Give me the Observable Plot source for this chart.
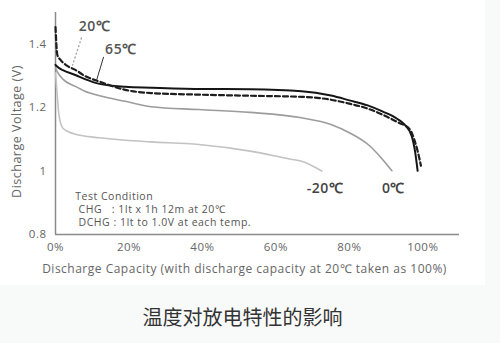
<!DOCTYPE html>
<html>
<head>
<meta charset="utf-8">
<script src="https://cdn.jsdelivr.net/npm/d3@7"></script>
<script src="https://cdn.jsdelivr.net/npm/@observablehq/plot@0.6"></script>
<style>
  html, body { margin: 0; padding: 0; background: #f8f9f9; width: 500px; height: 343px; overflow: hidden; }
  #chart svg { display: block; background: #ffffff; }
  #chart svg text { letter-spacing: 0.5px; }
  #caption { width: 485px; height: 58px; background: #f8f9f9; text-align: center;
    font-family: "Noto Sans CJK SC", sans-serif; font-size: 20px; color: #333; line-height: 64px; }
</style>
</head>
<body>
<div id="chart"></div>
<div id="caption">温度对放电特性的影响</div>
<script>
// Discharge capacity (%) and voltage (V) per temperature
const pct20 = [0, 0.5, 1.4, 3, 5.4, 8, 12, 19, 26, 39, 53, 67, 75, 80, 85, 89, 93, 96.5, 97.8, 98.6, 99.5];
const volt20 = [1.454, 1.366, 1.35, 1.333, 1.319, 1.30, 1.282, 1.256, 1.246, 1.241, 1.2375, 1.234, 1.225, 1.2125, 1.197, 1.178, 1.155, 1.131, 1.095, 1.063, 1.017];

const pct65 = [0, 0.5, 2, 5.4, 8, 12, 19, 26, 39, 53, 67, 75, 80, 85, 89, 93, 95, 97, 97.8, 98.6];
const volt65 = [1.335, 1.329, 1.318, 1.303, 1.29, 1.275, 1.266, 1.263, 1.259, 1.258, 1.252, 1.238, 1.223, 1.207, 1.188, 1.165, 1.147, 1.110, 1.069, 1.001];

const pct0 = [0, 0.5, 2, 5.4, 8, 12, 19, 26, 39, 53, 67, 75, 80, 85.6, 89, 91.6];
const volt0 = [1.325, 1.313, 1.29, 1.267, 1.252, 1.2375, 1.22, 1.203, 1.194, 1.185, 1.168, 1.147, 1.121, 1.079, 1.0375, 1.001];

const pctM20 = [0, 0.6, 0.9, 1.9, 3.5, 5.4, 12, 19, 26, 39, 53, 64, 67, 72.5];
const voltM20 = [1.31, 1.22, 1.18, 1.137, 1.124, 1.116, 1.105, 1.097, 1.092, 1.084, 1.063, 1.0375, 1.031, 1.0];

const seriesNames = ["20℃", "65℃", "-20℃", "0℃"];
const xTicks = [0, 20, 40, 60, 80, 100];
const yTicks = [0.8, 1, 1.2, 1.4];
const xTitle = "Discharge Capacity (with discharge capacity at 20℃ taken as 100%)";
const yTitle = "Discharge Voltage (V)";
const conditionLines = ["Test Condition", "\u00a0CHG\u00a0\u00a0\u00a0: 1It x 1h 12m at 20℃", "\u00a0DCHG : 1It to 1.0V at each temp."];

const toRows = (xs, ys) => xs.map((x, i) => ({x, y: ys[i]}));
const s20 = toRows(pct20, volt20);
const s65 = toRows(pct65, volt65);
const s0 = toRows(pct0, volt0);
const sM20 = toRows(pctM20, voltM20);

const font = "'Open Sans', sans-serif";

const chart = Plot.plot({
  width: 485,
  height: 285,
  marginLeft: 55,
  marginRight: 26,
  marginTop: 12,
  marginBottom: 51,
  style: {fontFamily: font, background: "#fff", color: "#666"},
  x: {domain: [0, 110]},
  y: {domain: [0.8, 1.5]},
  marks: [
    Plot.axisX({ticks: xTicks, tickFormat: d => d + "%", tickSize: 0, tickPadding: 8, fontSize: 11.5, label: null, fill: "#666"}),
    Plot.axisY({ticks: yTicks, tickFormat: d => String(d), tickSize: 0, tickPadding: 9, fontSize: 11.5, label: null, fill: "#666"}),
    Plot.ruleX([0], {stroke: "#8a8a8a", strokeWidth: 1.5}),
    Plot.ruleY([0.8], {stroke: "#8a8a8a", strokeWidth: 1.5}),
    Plot.line(sM20, {x: "x", y: "y", stroke: "#c2c2c2", strokeWidth: 1.6, curve: "monotone-x"}),
    Plot.line(s0, {x: "x", y: "y", stroke: "#9c9c9c", strokeWidth: 1.6, curve: "monotone-x"}),
    Plot.line(s65, {x: "x", y: "y", stroke: "#151515", strokeWidth: 2, curve: "monotone-x"}),
    Plot.line(s20, {x: "x", y: "y", stroke: "#1e1e1e", strokeWidth: 2.2, strokeDasharray: "5,3", curve: "monotone-x"}),
    // leader lines
    Plot.link([{x1: 7.1, y1: 1.421, x2: 4.6, y2: 1.333}], {x1: "x1", y1: "y1", x2: "x2", y2: "y2", stroke: "#999", strokeWidth: 1.2, strokeDasharray: "2,2"}),
    Plot.link([{x1: 13.1, y1: 1.36, x2: 11.2, y2: 1.287}], {x1: "x1", y1: "y1", x2: "x2", y2: "y2", stroke: "#333", strokeWidth: 1}),
    // series labels
    Plot.text([seriesNames[0]], {x: 10.6, y: 1.456, text: d => d, fontSize: 14, fontWeight: 600, fill: "#555"}),
    Plot.text([seriesNames[1]], {x: 17.8, y: 1.383, text: d => d, fontSize: 14, fontWeight: 600, fill: "#555"}),
    Plot.text([seriesNames[2]], {x: 73.4, y: 0.946, text: d => d, fontSize: 14, fontWeight: 600, fill: "#444"}),
    Plot.text([seriesNames[3]], {x: 92.0, y: 0.946, text: d => d, fontSize: 14, fontWeight: 600, fill: "#444"}),
    // test condition
    Plot.text([conditionLines[0]], {x: 5.4, y: 0.9196, text: d => d, textAnchor: "start", fontSize: 10.5, fill: "#555"}),
    Plot.text([conditionLines[1]], {x: 5.4, y: 0.8785, text: d => d, textAnchor: "start", fontSize: 10.5, fill: "#555"}),
    Plot.text([conditionLines[2]], {x: 5.4, y: 0.8375, text: d => d, textAnchor: "start", fontSize: 10.5, fill: "#555"}),
    // axis titles
    Plot.text([xTitle], {frameAnchor: "bottom", textAnchor: "middle", dx: -13, dy: 38, text: d => d, fontSize: 12, fill: "#666"}),
    Plot.text([yTitle], {frameAnchor: "left", textAnchor: "middle", rotate: -90, dx: -39, dy: 8, text: d => d, fontSize: 12.5, fill: "#666"})
  ]
});
document.getElementById("chart").appendChild(chart);
</script>
</body>
</html>
